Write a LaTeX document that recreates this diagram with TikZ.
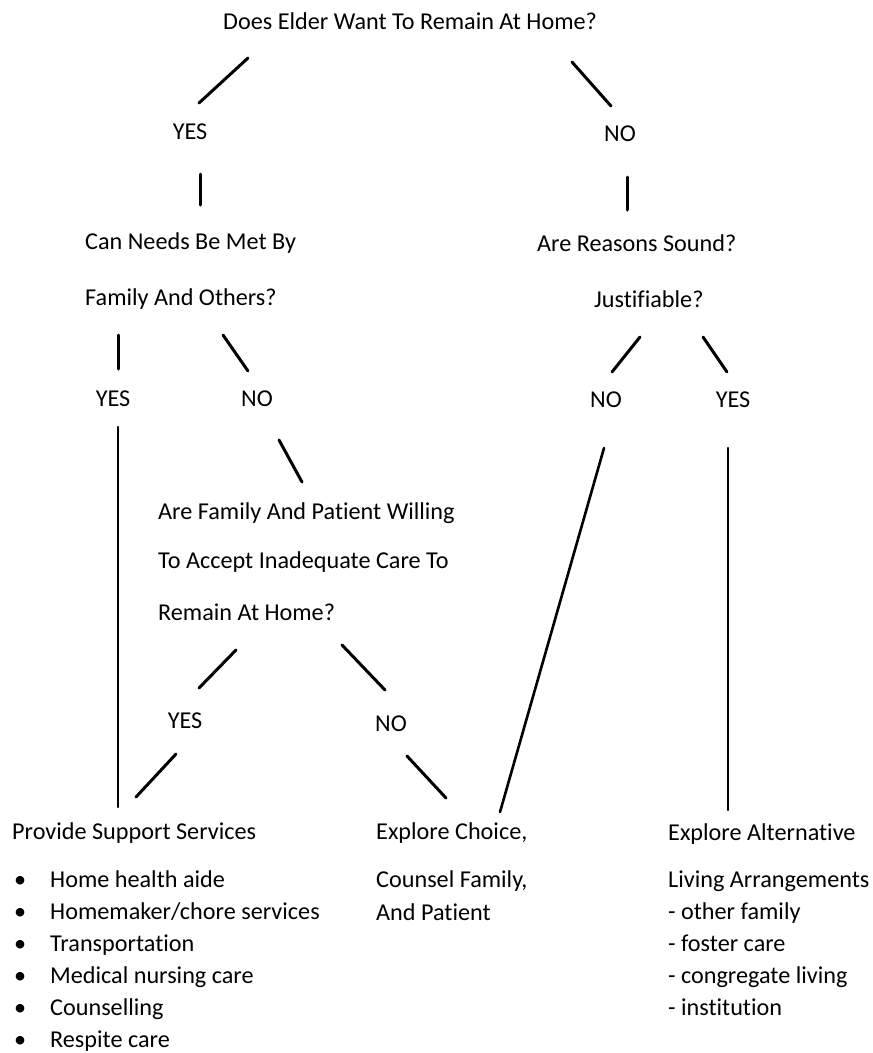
\documentclass[tikz,border=0pt]{standalone}
\usepackage{fontspec}
\setmainfont[Ligatures={NoCommon}]{Carlito}
\begin{document}
\begin{tikzpicture}[x=1pt,y=-1pt,
  txt/.style={inner sep=0pt,anchor=base west,font=\fontsize{24.2}{28}\selectfont},
  lbl/.style={inner sep=0pt,anchor=base,font=\fontsize{24.2}{28}\selectfont},
  stroke/.style={line width=3pt,line cap=round},
  longline/.style={line width=2.6pt,line cap=round}]
\useasboundingbox[fill=white] (0,0) rectangle (873,1053);
% texts
\node[txt] (title) at (223,29) {Does Elder Want To Remain At Home?};
\node[lbl] (yes1) at (190,139) {YES};
\node[lbl] (no1) at (620,141) {NO};
\node[txt] (q2a) at (85,249) {Can Needs Be Met By};
\node[txt] (q2b) at (85,305) {Family And Others?};
\node[txt] (q3a) at (537,251) {Are Reasons Sound?};
\node[txt] (q3b) at (594,307) {Justifiable?};
\node[lbl] (yes2) at (113,406) {YES};
\node[lbl] (no2) at (257,406) {NO};
\node[lbl] (no3) at (606,407) {NO};
\node[lbl] (yes3) at (733,407) {YES};
\node[txt] (q4a) at (158,519) {Are Family And Patient Willing};
\node[txt] (q4b) at (158,568) {To Accept Inadequate Care To};
\node[txt] (q4c) at (158,620) {Remain At Home?};
\node[lbl] (yes4) at (185,728) {YES};
\node[lbl] (no4) at (391,731) {NO};
\node[txt] (sup) at (12,839) {Provide Support Services};
\node[txt] (cho) at (376,839) {Explore Choice,};
\node[txt] (alt) at (668,840) {Explore Alternative};
\foreach \t [count=\i] in {Home health aide,Homemaker/chore services,Transportation,Medical nursing care,Counselling,Respite care}{
  \node[txt] (b\i) at (14,{887+32*(\i-1)}) {\textbullet};
  \node[txt] (s\i) at (50,{887+32*(\i-1)}) {\t};
}
\node[txt] (cho2) at (376,887) {Counsel Family,};
\node[txt] (cho3) at (376,920) {And Patient};
\node[txt] (alt2) at (668,887) {Living Arrangements};
\node[txt] (alt3) at (668,919) {- other family};
\node[txt] (alt4) at (668,951) {- foster care};
\node[txt] (alt5) at (668,983) {- congregate living};
\node[txt] (alt6) at (668,1015) {- institution};
% stroke endpoints
\coordinate (a1) at (248,58);  \coordinate (a2) at (199,103);
\coordinate (b1) at (572,62);  \coordinate (b2) at (611,106);
\coordinate (c1) at (200,174); \coordinate (c2) at (200,205);
\coordinate (d1) at (627,177); \coordinate (d2) at (627,210);
\coordinate (e1) at (118,335); \coordinate (e2) at (118,369);
\coordinate (f1) at (223,335); \coordinate (f2) at (248,371);
\coordinate (g1) at (640,337); \coordinate (g2) at (612,372);
\coordinate (h1) at (703,337); \coordinate (h2) at (727,372);
\coordinate (i1) at (118,427); \coordinate (i2) at (118,807);
\coordinate (j1) at (279,440); \coordinate (j2) at (302,482);
\coordinate (k1) at (236,650); \coordinate (k2) at (199,688);
\coordinate (l1) at (342,645); \coordinate (l2) at (385,690);
\coordinate (m1) at (176,754); \coordinate (m2) at (136,797);
\coordinate (n1) at (407,756); \coordinate (n2) at (446,798);
\coordinate (o1) at (604,448); \coordinate (o2) at (500,812);
\coordinate (p1) at (728,448); \coordinate (p2) at (728,810);
\foreach \s in {a,b,c,d,e,f,g,h,j,k,l,m,n}{\draw[stroke] (\s1) -- (\s2);}
\foreach \s in {i,o,p}{\draw[longline] (\s1) -- (\s2);}
\end{tikzpicture}
\end{document}
